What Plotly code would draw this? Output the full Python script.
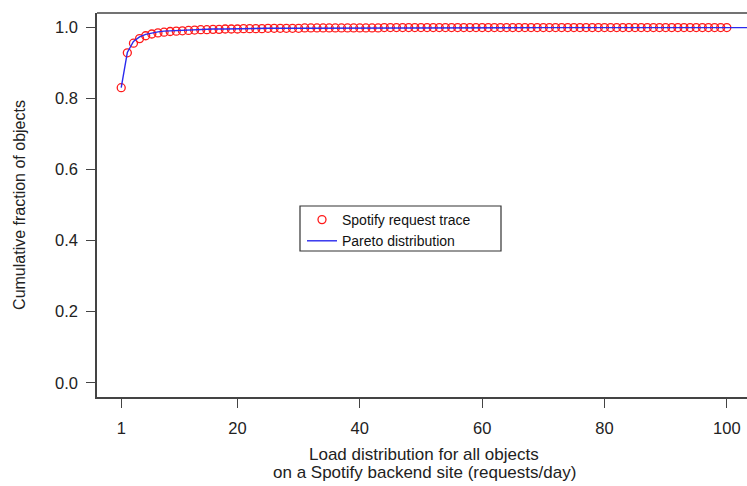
import plotly.graph_objects as go

# Spotify request trace (empirical CDF), x = 1..100
trace_x = list(range(1, 101))
trace_y = [0.830, 0.928, 0.955, 0.968, 0.976, 0.981, 0.984, 0.986, 0.988, 0.989,
           0.990, 0.991, 0.992, 0.993, 0.993, 0.994, 0.994, 0.995, 0.995, 0.995,
           0.996, 0.996, 0.996, 0.996, 0.997, 0.997, 0.997, 0.997, 0.997, 0.997,
           0.998, 0.998, 0.998, 0.998, 0.998, 0.998, 0.998, 0.998, 0.998, 0.998,
           0.998, 0.998, 0.998, 0.999, 0.999, 0.999, 0.999, 0.999, 0.999, 0.999,
           0.999, 0.999, 0.999, 0.999, 0.999, 0.999, 0.999, 0.999, 0.999, 0.999,
           0.999, 0.999, 0.999, 0.999, 0.999, 0.999, 0.999, 0.999, 0.999, 0.999,
           0.999, 0.999, 0.999, 0.999, 0.999, 0.999, 0.999, 0.999, 0.999, 0.999,
           0.999, 0.999, 0.999, 0.999, 0.999, 0.999, 0.999, 0.999, 0.999, 0.999,
           0.999, 0.999, 0.999, 0.999, 0.999, 0.999, 0.999, 0.999, 0.999, 0.999]

# Pareto distribution fit (CDF)
pareto_x = [1, 2, 3, 4, 5, 6, 7, 8, 9, 10, 12, 14, 16, 18, 20, 25, 30, 40, 50,
            60, 70, 80, 90, 100, 110]
pareto_y = [0.830, 0.929, 0.960, 0.973, 0.980, 0.984, 0.987, 0.989, 0.990, 0.991,
            0.993, 0.994, 0.995, 0.995, 0.996, 0.997, 0.997, 0.998, 0.998,
            0.999, 0.999, 0.999, 0.999, 0.999, 0.999]

x_ticks = [1, 20, 40, 60, 80, 100]
y_ticks = [0.0, 0.2, 0.4, 0.6, 0.8, 1.0]
y_ticklabels = ["0.0", "0.2", "0.4", "0.6", "0.8", "1.0"]

x_title_lines = ["Load distribution for all objects",
                 "on a Spotify backend site (requests/day)"]
y_title = "Cumulative fraction of objects"

FONT = "Liberation Sans, Arial, sans-serif"
AX = "#444444"
TXT = "#222222"

# plot area in pixels (used to place legend frame)
L, R, T, B = 97, 747, 13, 397
W, H = R - L, B - T

fig = go.Figure()
fig.add_trace(go.Scatter(
    x=trace_x, y=trace_y, mode="markers", name="Spotify request trace",
    marker=dict(symbol="circle-open", size=8, color="#ff1a1a", line=dict(width=1.3)),
))
fig.add_trace(go.Scatter(
    x=pareto_x, y=pareto_y, mode="lines", name="Pareto distribution",
    line=dict(color="#2a2aee", width=1.4),
))

fig.update_layout(
    width=747, height=486,
    margin=dict(l=L, r=747 - R, t=T, b=486 - B, autoexpand=False),
    paper_bgcolor="white", plot_bgcolor="white",
    font=dict(family=FONT, size=16, color=TXT),
    showlegend=True,
    legend=dict(
        x=(302 - L) / W, y=1 - (204 - T) / H, xref="paper", yref="paper",
        xanchor="left", yanchor="top",
        borderwidth=0, bgcolor="rgba(0,0,0,0)",
        font=dict(size=14, family=FONT, color="#111111"),
        tracegroupgap=0, itemwidth=30,
    ),
    xaxis=dict(
        range=[-2.96, 103.3], tickvals=x_ticks, ticktext=[str(v) for v in x_ticks],
        showgrid=False, zeroline=False, showline=True, linecolor=AX, linewidth=1.5,
        ticks="outside", ticklen=9, tickcolor=AX, tickwidth=1, ticklabelstandoff=6,
        tickfont=dict(size=16.5, family=FONT, color=TXT),
    ),
    yaxis=dict(
        range=[-0.04, 1.04], tickvals=y_ticks, ticktext=y_ticklabels,
        showgrid=False, zeroline=False, showline=True, linecolor=AX, linewidth=1.5,
        ticks="outside", ticklen=9, tickcolor=AX, tickwidth=1, ticklabelstandoff=5,
        tickfont=dict(size=16.5, family=FONT, color=TXT),
        title=dict(text=y_title, font=dict(size=16, family=FONT, color=TXT), standoff=25),
    ),
)

# top border of the box
fig.add_shape(type="line", xref="paper", yref="paper", x0=0, x1=1, y0=1, y1=1,
              line=dict(color=AX, width=1.5))
# legend frame
fig.add_shape(type="rect", xref="paper", yref="paper",
              x0=(300 - L) / W, x1=(501 - L) / W,
              y0=1 - (251 - T) / H, y1=1 - (206 - T) / H,
              line=dict(color="#333333", width=1.2), fillcolor="white", layer="below")

for i, line in enumerate(x_title_lines):
    fig.add_annotation(
        text=line, xref="x", yref="paper", x=50.5, y=0,
        yshift=-(454 - B) - 18 * i, yanchor="middle", showarrow=False,
        font=dict(size=17, family=FONT, color=TXT),
    )

fig.write_html("out.html")
